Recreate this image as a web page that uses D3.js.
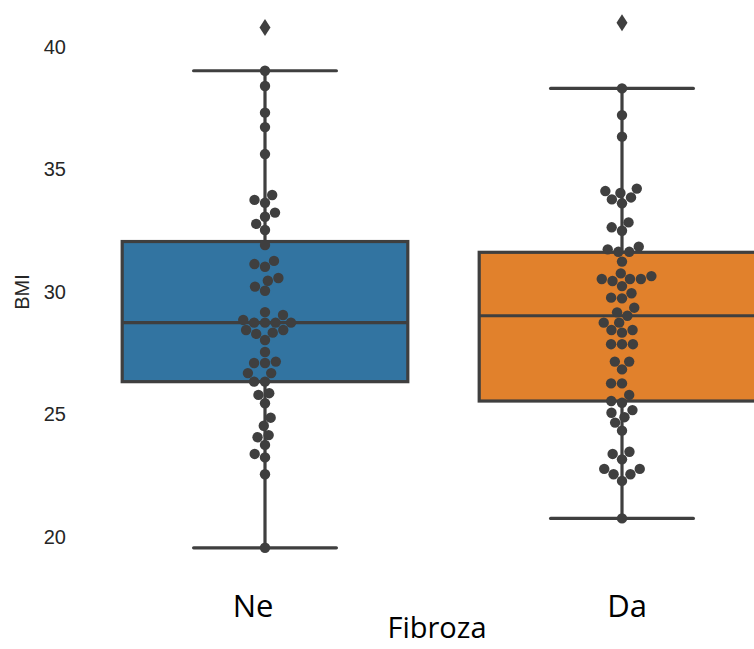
<!DOCTYPE html>
<html>
<head>
<meta charset="utf-8">
<script src="https://cdn.jsdelivr.net/npm/d3@7"></script>
<style>
  html, body { margin: 0; padding: 0; background: #ffffff; }
  svg { display: block; }
</style>
</head>
<body>
<svg id="chart" width="754" height="649"></svg>
<script>
// ---------------- data ----------------
const categories = ["Ne", "Da"];
const boxColors = ["#3274a1", "#e1812c"];
// box statistics
const whiskerLow  = [19.56, 20.76];
const q1          = [26.34, 25.55];
const median      = [28.75, 29.03];
const q3          = [32.06, 31.62];
const whiskerHigh = [39.03, 38.31];
const outliers    = [[40.80], [40.99]];
// swarm points
const neValues = [39.03, 38.41, 37.32, 36.73, 35.63, 33.96, 33.76, 33.64, 33.24, 33.07,
  32.78, 32.53, 31.92, 31.27, 31.14, 31.03, 30.57, 30.46, 30.22, 30.05, 29.18, 29.06,
  28.86, 28.75, 28.75, 28.75, 28.75, 28.45, 28.45, 28.34, 28.29, 28.04, 27.55, 27.16,
  27.10, 27.10, 26.69, 26.69, 26.34, 26.34, 25.87, 25.80, 25.46, 24.87, 24.54, 24.16,
  24.07, 23.76, 23.39, 23.25, 22.56, 19.56];
const daValues = [38.31, 37.22, 36.34, 34.22, 34.12, 34.04, 33.86, 33.78, 33.62, 32.84,
  32.64, 32.50, 31.85, 31.74, 31.64, 31.64, 31.24, 30.76, 30.65, 30.53, 30.53, 30.53,
  30.45, 30.24, 29.95, 29.77, 29.74, 29.36, 29.17, 29.03, 28.75, 28.75, 28.45, 28.45,
  28.34, 27.87, 27.87, 27.87, 27.16, 27.16, 26.84, 26.27, 26.27, 25.80, 25.55, 25.48,
  25.18, 25.07, 24.89, 24.67, 24.34, 23.48, 23.39, 23.17, 22.78, 22.78, 22.56, 22.56,
  22.29, 20.76];
const swarmValues = [neValues, daValues];
const yTicks = [20, 25, 30, 35, 40];
const xLabel = "Fibroza";
const yLabel = "BMI";

// ---------------- scales ----------------
const svg = d3.select("#chart");
const x = d3.scaleBand().domain(categories).range([86.5, 800.5]).paddingInner(0).paddingOuter(0);
const y = d3.scaleLinear().domain([20, 40]).range([537, 47]);
const boxW = x.bandwidth() * 0.8;
const lineCol = "#3f3f3f";
const lw = 3.2;
const r = 5.2;

svg.append("rect").attr("width", 754).attr("height", 649).attr("fill", "#fff");

// ---------------- boxes ----------------
categories.forEach((c, i) => {
  const cx = x(c) + x.bandwidth() / 2;
  const g = svg.append("g");
  g.append("line").attr("x1", cx).attr("x2", cx).attr("y1", y(q3[i])).attr("y2", y(whiskerHigh[i]))
    .attr("stroke", lineCol).attr("stroke-width", lw);
  g.append("line").attr("x1", cx).attr("x2", cx).attr("y1", y(q1[i])).attr("y2", y(whiskerLow[i]))
    .attr("stroke", lineCol).attr("stroke-width", lw);
  [whiskerHigh[i], whiskerLow[i]].forEach(v => {
    g.append("line").attr("x1", cx - boxW / 4).attr("x2", cx + boxW / 4)
      .attr("y1", y(v)).attr("y2", y(v))
      .attr("stroke", lineCol).attr("stroke-width", lw).attr("stroke-linecap", "round");
  });
  g.append("rect").attr("x", cx - boxW / 2).attr("width", boxW)
    .attr("y", y(q3[i])).attr("height", y(q1[i]) - y(q3[i]))
    .attr("fill", boxColors[i]).attr("stroke", lineCol).attr("stroke-width", lw);
  g.append("line").attr("x1", cx - boxW / 2).attr("x2", cx + boxW / 2)
    .attr("y1", y(median[i])).attr("y2", y(median[i]))
    .attr("stroke", lineCol).attr("stroke-width", lw);
  outliers[i].forEach(v => {
    const h = 8.5, w = 5.5, yy = y(v);
    g.append("path")
      .attr("d", `M${cx},${yy - h}L${cx + w},${yy}L${cx},${yy + h}L${cx - w},${yy}Z`)
      .attr("fill", lineCol);
  });
});

// ---------------- swarm ----------------
function beeswarm(values, cx) {
  const pts = values.map(v => ({ v, h: -y(v) })).sort((a, b) => a.h - b.h);
  const placed = [];
  for (const p of pts) {
    const nb = [];
    for (let j = placed.length - 1; j >= 0; j--) {
      if (p.h - placed[j].h < 2 * r) nb.unshift(placed[j]); else break;
    }
    const cands = [cx];
    let leftFirst = true;
    for (const q of nb) {
      const dy = p.h - q.h;
      const dx = Math.sqrt(Math.max(4 * r * r - dy * dy, 0)) * 1.05;
      if (leftFirst) cands.push(q.x - dx, q.x + dx); else cands.push(q.x + dx, q.x - dx);
      leftFirst = !leftFirst;
    }
    const order = cands.map((cxx, i) => ({ cxx, i }))
      .sort((a, b) => (Math.abs(a.cxx - cx) - Math.abs(b.cxx - cx)) || (a.i - b.i));
    let chosen = cx;
    for (const c of order) {
      if (nb.every(q => (q.x - c.cxx) ** 2 + (q.h - p.h) ** 2 >= 4 * r * r - 1e-6)) { chosen = c.cxx; break; }
    }
    placed.push({ x: chosen, h: p.h, v: p.v });
  }
  return placed;
}

categories.forEach((c, i) => {
  const cx = x(c) + x.bandwidth() / 2;
  const pts = beeswarm(swarmValues[i], cx);
  svg.append("g").selectAll("circle").data(pts).join("circle")
    .attr("cx", d => d.x).attr("cy", d => y(d.v)).attr("r", r)
    .attr("fill", lineCol);
});

// ---------------- axes ----------------
const yAxis = svg.append("g").attr("transform", "translate(78,0)")
  .call(d3.axisLeft(y).tickValues(yTicks).tickSize(0).tickPadding(0));
yAxis.select(".domain").remove();
yAxis.selectAll("text").attr("font-family", "Liberation Sans, Arial, sans-serif")
  .attr("font-size", 20).attr("fill", "#262626").attr("x", -12);

svg.append("text").attr("transform", "translate(29,292) rotate(-90)")
  .attr("text-anchor", "middle").attr("font-family", "Liberation Sans, Arial, sans-serif")
  .attr("font-size", 20).attr("fill", "#262626").text(yLabel);

const labelShift = { "Ne": -12, "Da": 5 };
const xAxis = svg.append("g").attr("transform", "translate(0,593)")
  .call(d3.axisBottom(x).tickSize(0).tickPadding(0));
xAxis.select(".domain").remove();
xAxis.selectAll("text").attr("font-family", "Open Sans, Noto Sans, sans-serif")
  .attr("font-size", 31).attr("fill", "#000").attr("dy", "0").attr("y", 24)
  .attr("dx", d => labelShift[d]);

svg.append("text").attr("x", 437).attr("y", 638).attr("text-anchor", "middle")
  .attr("font-family", "Open Sans, Noto Sans, sans-serif").attr("font-size", 29)
  .attr("fill", "#000").text(xLabel);
</script>
</body>
</html>
